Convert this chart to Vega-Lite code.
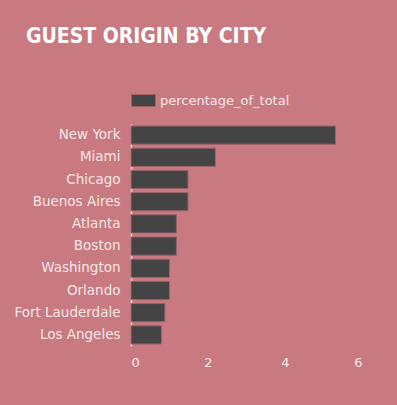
{
  "$schema": "https://vega.github.io/schema/vega-lite/v6.json",
  "width": 397,
  "height": 405,
  "autosize": {"type": "fit", "contains": "padding"},
  "padding": {"left": 13, "top": 26, "right": 35, "bottom": 36},
  "background": "#c97a80",
  "title": {
    "text": "GUEST ORIGIN BY CITY",
    "anchor": "start",
    "frame": "bounds",
    "dx": 12,
    "font": "DejaVu Sans Condensed",
    "fontSize": 21,
    "fontWeight": "bold",
    "color": "#ffffff",
    "offset": 41
  },
  "data": {
    "values": [
      {"city": "New York", "percentage_of_total": 5.31},
      {"city": "Miami", "percentage_of_total": 2.19},
      {"city": "Chicago", "percentage_of_total": 1.48},
      {"city": "Buenos Aires", "percentage_of_total": 1.48},
      {"city": "Atlanta", "percentage_of_total": 1.18},
      {"city": "Boston", "percentage_of_total": 1.18},
      {"city": "Washington", "percentage_of_total": 1.0},
      {"city": "Orlando", "percentage_of_total": 1.0},
      {"city": "Fort Lauderdale", "percentage_of_total": 0.88},
      {"city": "Los Angeles", "percentage_of_total": 0.79}
    ]
  },
  "mark": {"type": "bar", "stroke": "#9a6269", "strokeWidth": 1},
  "encoding": {
    "y": {
      "field": "city",
      "type": "nominal",
      "sort": null,
      "scale": {"paddingInner": 0.18, "paddingOuter": 0.09},
      "axis": {
        "title": null,
        "ticks": false,
        "labelPadding": 11,
        "labelFont": "DejaVu Sans",
        "labelFontSize": 13.5,
        "labelColor": "#f6e6e6",
        "domainColor": "#f2d6d8",
        "domainWidth": 1.5,
        "grid": false
      }
    },
    "x": {
      "field": "percentage_of_total",
      "type": "quantitative",
      "scale": {"domain": [0, 6]},
      "axis": {
        "title": null,
        "values": [0, 2, 4, 6],
        "domain": false,
        "ticks": false,
        "grid": false,
        "labelPadding": 10,
        "labelFont": "DejaVu Sans",
        "labelFontSize": 13,
        "labelColor": "#f6e6e6"
      }
    },
    "color": {
      "datum": "percentage_of_total",
      "scale": {"range": ["#444444"]},
      "legend": {
        "title": null,
        "orient": "top",
        "symbolType": "M-1,-0.5H1V0.5H-1Z",
        "symbolSize": 576,
        "symbolStrokeColor": "#9a6269",
        "symbolStrokeWidth": 1,
        "symbolOpacity": 1,
        "labelFont": "DejaVu Sans",
        "labelFontSize": 13,
        "labelColor": "#f6e6e6",
        "padding": 0,
        "offset": 15
      }
    }
  },
  "config": {"view": {"stroke": null}}
}
